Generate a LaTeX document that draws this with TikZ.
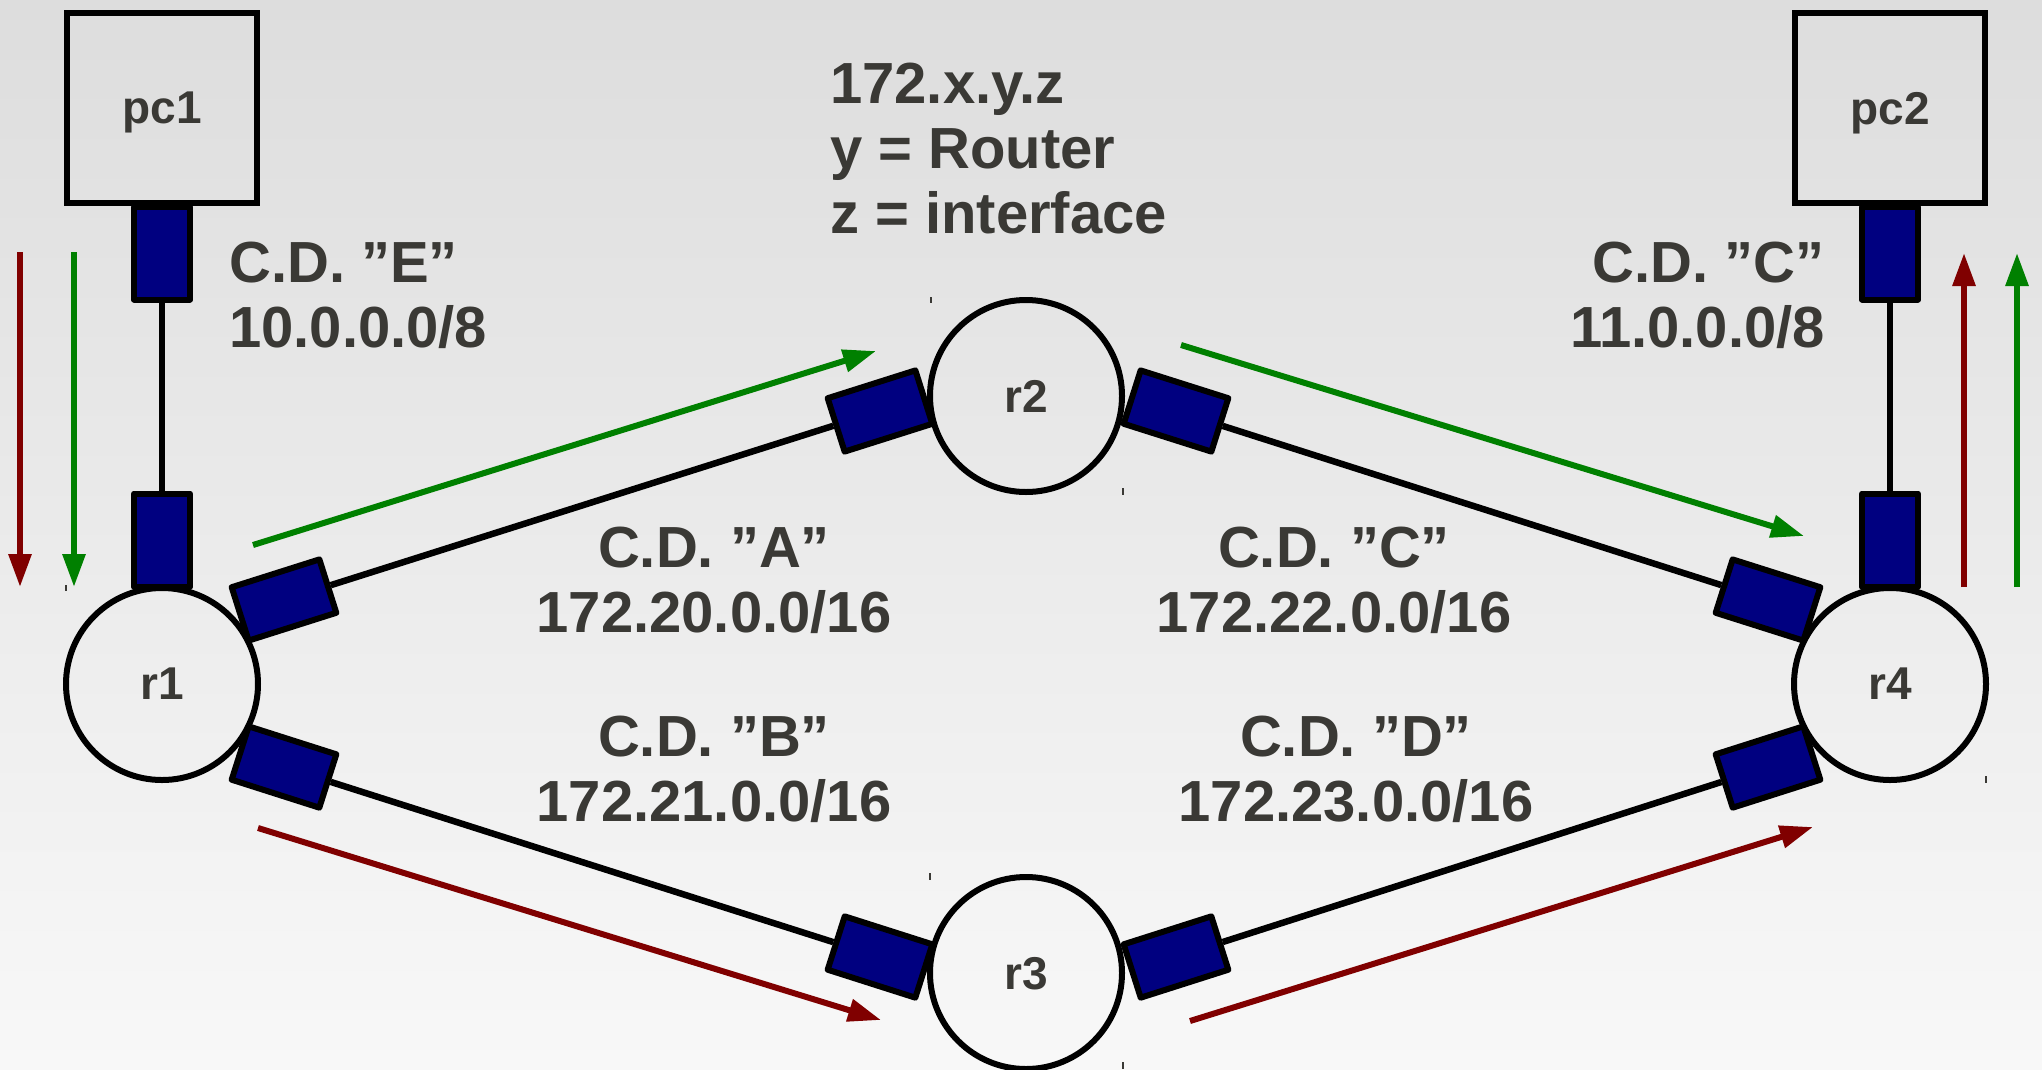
\documentclass[tikz,border=0pt]{standalone}
\usepackage{fontspec}
\setmainfont{Liberation Sans}
\usetikzlibrary{arrows.meta}
\definecolor{bgtop}{RGB}{221,221,221}
\definecolor{bgbot}{RGB}{248,248,248}
\definecolor{txtc}{RGB}{58,57,53}
\definecolor{ifnavy}{RGB}{0,0,128}
\definecolor{flowgreen}{RGB}{0,128,0}
\definecolor{flowred}{RGB}{128,0,0}
\begin{document}
\begin{tikzpicture}[x=1pt,y=-1pt,
  pcbox/.style={draw, line width=6pt, minimum width=190pt, minimum height=190pt, inner sep=0pt,
    text=txtc, font=\fontsize{46}{50}\selectfont\bfseries, text depth=0pt},
  router/.style={draw, circle, line width=6pt, minimum size=192pt, inner sep=0pt,
    text=txtc, font=\fontsize{46}{50}\selectfont\bfseries, text depth=0pt},
  intf/.style={draw, fill=ifnavy, line width=6pt, minimum width=92pt, minimum height=56pt,
    inner sep=0pt, line join=round},
  vintf/.style={intf, minimum width=56pt, minimum height=93pt},
  link/.style={line width=6.5pt},
  flow/.style={line width=6pt, -{Triangle[length=33pt,width=22pt]}},
  lbl/.style={text=txtc, font=\fontsize{58}{65}\selectfont\bfseries, inner sep=0pt},
  tickmark/.style={line width=1.5pt, draw=txtc}
]
\useasboundingbox (0,0) rectangle (2042,1069);
\clip (0,0) rectangle (2042,1069);
\shade[top color=bgtop, bottom color=bgbot] (0,0) rectangle (2042,1069);

% small selection marks
\draw[tickmark] (931,297) -- (931,303);
\draw[tickmark] (1123,488) -- (1123,495);
\draw[tickmark] (66,585) -- (66,591);
\draw[tickmark] (1986,776) -- (1986,783);
\draw[tickmark] (930,873) -- (930,880);
\draw[tickmark] (1123,1062) -- (1123,1069);

% hosts and routers
\node[pcbox] (pc1) at (162,108) {pc1};
\node[pcbox] (pc2) at (1890,108) {pc2};
\node[router] (r1) at (162,684) {r1};
\node[router] (r2) at (1026,396) {r2};
\node[router] (r3) at (1026,973) {r3};
\node[router] (r4) at (1890,684) {r4};

% interfaces
\node[vintf] (pc1i) at (162,253) {};
\node[vintf] (r1t) at (162,540) {};
\node[vintf] (pc2i) at (1890,253) {};
\node[vintf] (r4t) at (1890,540) {};
\node[intf, rotate=17.6] (r1a) at (284,600) {};
\node[intf, rotate=17.6] (r2a) at (880,411) {};
\node[intf, rotate=-17.6] (r2b) at (1176,411) {};
\node[intf, rotate=-17.6] (r4a) at (1768,600) {};
\node[intf, rotate=-17.7] (r1b) at (284,767) {};
\node[intf, rotate=-17.7] (r3a) at (880,957) {};
\node[intf, rotate=17.7] (r3b) at (1176,957) {};
\node[intf, rotate=17.7] (r4b) at (1768,767) {};

% links
\draw[link] (pc1i) -- (r1t);
\draw[link] (pc2i) -- (r4t);
\draw[link] (r1a) -- (r2a);
\draw[link] (r2b) -- (r4a);
\draw[link] (r1b) -- (r3a);
\draw[link] (r3b) -- (r4b);

% flow arrows
\coordinate (gl1) at (74,252);   \coordinate (gl2) at (74,587);
\coordinate (rl1) at (20,252);   \coordinate (rl2) at (20,587);
\coordinate (gr1) at (2017,587); \coordinate (gr2) at (2017,253);
\coordinate (rr1) at (1964,587); \coordinate (rr2) at (1964,253);
\coordinate (ga1) at (253,545);  \coordinate (ga2) at (876,351);
\coordinate (gb1) at (1181,345); \coordinate (gb2) at (1804,536);
\coordinate (ra1) at (258,828);  \coordinate (ra2) at (881,1020);
\coordinate (rb1) at (1190,1021); \coordinate (rb2) at (1813,827);
\draw[flow, flowred] (rl1) -- (rl2);
\draw[flow, flowgreen] (gl1) -- (gl2);
\draw[flow, flowred] (rr1) -- (rr2);
\draw[flow, flowgreen] (gr1) -- (gr2);
\draw[flow, flowgreen] (ga1) -- (ga2);
\draw[flow, flowgreen] (gb1) -- (gb2);
\draw[flow, flowred] (ra1) -- (ra2);
\draw[flow, flowred] (rb1) -- (rb2);

% labels (base anchor = baseline of the last line)
\node[lbl, align=left, anchor=base west] (legend) at (830,233) {172.x.y.z\\y = Router\\z = interface};
\node[lbl, align=left, anchor=base west] (cde) at (229,347) {C.D. ”E”\\10.0.0.0/8};
\node[lbl, align=right, anchor=base east] (cdc1) at (1825,347) {C.D. ”C”\\11.0.0.0/8};
\node[lbl, align=center, anchor=base] (cda) at (714,632) {C.D. ”A”\\172.20.0.0/16};
\node[lbl, align=center, anchor=base] (cdc2) at (1334,632) {C.D. ”C”\\172.22.0.0/16};
\node[lbl, align=center, anchor=base] (cdb) at (714,821) {C.D. ”B”\\172.21.0.0/16};
\node[lbl, align=center, anchor=base] (cdd) at (1356,821) {C.D. ”D”\\172.23.0.0/16};
\end{tikzpicture}
\end{document}
